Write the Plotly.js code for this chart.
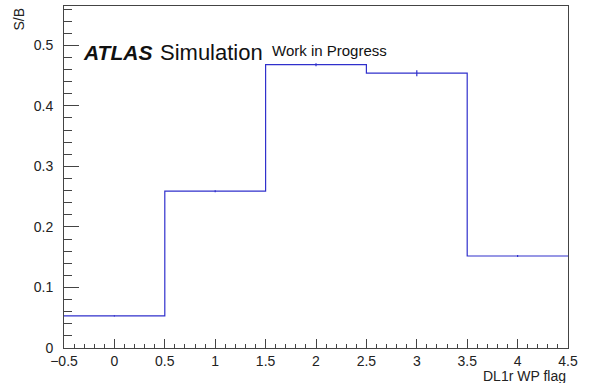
<!DOCTYPE html>
<html>
<head>
<meta charset="utf-8">
<script src="https://cdn.plot.ly/plotly-3.0.1.min.js"></script>
<style>
  html, body { margin: 0; padding: 0; background: #ffffff; }
  #chart { width: 592px; height: 383px; }
</style>
</head>
<body>
<div id="chart"></div>
<script>
// Signal-over-background per DL1r working-point flag bin
const binEdges = [-0.5, 0.5, 1.5, 2.5, 3.5, 4.5];
const wpFlags  = [0, 1, 2, 3, 4];
const sbValues = [0.053, 0.259, 0.468, 0.454, 0.152];
const sbErrors = [0.001, 0.0015, 0.0025, 0.005, 0.0015];

const lineColor = '#3030cc';
const font = 'Liberation Sans, Arial, Helvetica, sans-serif';

// step outline: repeat the last bin value so the final bin reaches the upper edge
const stepY = sbValues.concat([sbValues[sbValues.length - 1]]);

const histTrace = {
  type: 'scatter',
  mode: 'lines',
  x: binEdges,
  y: stepY,
  line: { shape: 'hv', color: lineColor, width: 1.2 },
  hoverinfo: 'skip',
  showlegend: false
};

const errTrace = {
  type: 'scatter',
  mode: 'markers',
  x: wpFlags,
  y: sbValues,
  marker: { size: 1, color: lineColor, opacity: 0 },
  error_y: { type: 'data', array: sbErrors, visible: true, color: lineColor, thickness: 1.2, width: 0 },
  showlegend: false
};

const axisCommon = {
  showline: true,
  linecolor: '#444',
  linewidth: 1,
  mirror: true,
  ticks: 'inside',
  tickcolor: '#444',
  tickwidth: 1,
  showgrid: false,
  zeroline: false,
  tickfont: { family: font, size: 14, color: '#222' }
};

const layout = {
  width: 592,
  height: 383,
  margin: { l: 64, r: 24, t: 6, b: 35 },
  paper_bgcolor: '#ffffff',
  plot_bgcolor: '#ffffff',
  xaxis: Object.assign({}, axisCommon, {
    range: [-0.5, 4.5],
    tick0: -0.5,
    dtick: 0.5,
    ticklen: 9,
    minor: { dtick: 0.1, tick0: -0.5, ticks: 'inside', ticklen: 4, tickcolor: '#444', showgrid: false }
  }),
  yaxis: Object.assign({}, axisCommon, {
    range: [0, 0.565],
    tick0: 0,
    dtick: 0.1,
    ticklen: 15,
    ticklabelstandoff: 7,
    minor: { dtick: 0.02, tick0: 0, ticks: 'inside', ticklen: 8, tickcolor: '#444', showgrid: false }
  }),
  annotations: [
    {
      text: 'S/B', xref: 'paper', yref: 'paper',
      x: -46 / 504, y: 1, xanchor: 'center', yanchor: 'top',
      textangle: -90, showarrow: false,
      font: { family: font, size: 14, color: '#222' }
    },
    {
      text: 'DL1r WP flag', xref: 'paper', yref: 'paper',
      x: 1, y: -28 / 342, xanchor: 'right', yanchor: 'middle',
      showarrow: false,
      font: { family: font, size: 14, color: '#222' }
    },
    {
      text: '<b><i>ATLAS</i></b>', xref: 'x', yref: 'y',
      x: -0.33, y: 0.488, xanchor: 'left', yanchor: 'middle',
      showarrow: false,
      font: { family: font, size: 21, color: '#111' }
    },
    {
      text: 'Simulation', xref: 'x', yref: 'y',
      x: 0.43, y: 0.488, xanchor: 'left', yanchor: 'middle',
      showarrow: false,
      font: { family: font, size: 22, color: '#111' }
    },
    {
      text: 'Work in Progress', xref: 'x', yref: 'y',
      x: 1.54, y: 0.492, xanchor: 'left', yanchor: 'middle',
      showarrow: false,
      font: { family: font, size: 15, color: '#111' }
    }
  ]
};

Plotly.newPlot('chart', [histTrace, errTrace], layout, { staticPlot: true, displayModeBar: false });
</script>
</body>
</html>
